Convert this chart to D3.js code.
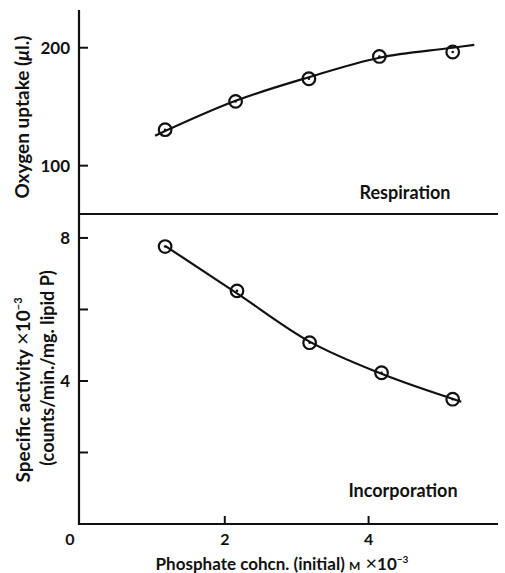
<!DOCTYPE html>
<html>
<head>
<meta charset="utf-8">
<script src="https://cdn.jsdelivr.net/npm/d3@7"></script>
<style>
  body { margin: 0; background: white; }
  svg text { font-family: Lato, 'Open Sans', sans-serif; fill: #111; }
</style>
</head>
<body>
<div id="chart-container"></div>
<script>
// measured points (phosphate concn, M x 10^-3)
const respX = [1.17, 2.15, 3.17, 4.15, 5.17]
const respY = [130.5, 154.5, 173.7, 192.6, 196.4]
// smooth curve drawn through the respiration data
const respCurveX = [1.03, 2.15, 3.17, 4.15, 5.17, 5.47]
const respCurveY = [125.4, 155, 175, 191.5, 200, 202.5]

const incX = [1.17, 2.17, 3.18, 4.18, 5.17]
const incY = [7.76, 6.52, 5.07, 4.23, 3.49]
const incCurveX = [1.17, 2.17, 3.18, 4.18, 5.29]
const incCurveY = [7.78, 6.45, 5.1, 4.2, 3.42]

const xTicks = [0, 2, 4]
const respTicks = [100, 200]
const incTicks = [2, 4, 6, 8]
const incTickLabels = { 4: '4', 8: '8' }

const width = 505
const height = 573

const svg = d3
  .select('#chart-container')
  .append('svg')
  .attr('width', width)
  .attr('height', height)

const x = d3.scaleLinear().domain([0, 5.8]).range([81, 498])
const yTop = d3.scaleLinear().domain([59, 232]).range([214, 10])
const yBot = d3.scaleLinear().domain([0, 8.67]).range([524, 214])

const axisLeft = x(0) - 2

// axes frame
svg
  .append('path')
  .attr('fill', 'none')
  .attr('stroke', '#111')
  .attr('stroke-width', 2.2)
  .attr('d', `M${axisLeft},${yTop(232)} V${yBot(0)} H${x(5.8)}`)

// divider between the two panels
svg
  .append('line')
  .attr('x1', axisLeft)
  .attr('x2', x(5.8))
  .attr('y1', yBot(8.67))
  .attr('y2', yBot(8.67))
  .attr('stroke', '#111')
  .attr('stroke-width', 2.2)

// y ticks, top panel
svg
  .append('g')
  .selectAll('line')
  .data(respTicks)
  .join('line')
  .attr('x1', axisLeft)
  .attr('x2', axisLeft + 9)
  .attr('y1', d => yTop(d))
  .attr('y2', d => yTop(d))
  .attr('stroke', '#111')
  .attr('stroke-width', 2)

svg
  .append('g')
  .selectAll('text')
  .data(respTicks)
  .join('text')
  .attr('x', axisLeft - 9)
  .attr('y', d => yTop(d))
  .attr('dy', '0.36em')
  .attr('text-anchor', 'end')
  .attr('font-size', 17)
  .attr('font-weight', 700)
  .text(d => d)

// y ticks, bottom panel
svg
  .append('g')
  .selectAll('line')
  .data(incTicks)
  .join('line')
  .attr('x1', axisLeft)
  .attr('x2', axisLeft + 9)
  .attr('y1', d => yBot(d))
  .attr('y2', d => yBot(d))
  .attr('stroke', '#111')
  .attr('stroke-width', 2)

svg
  .append('g')
  .selectAll('text')
  .data(incTicks.filter(d => incTickLabels[d]))
  .join('text')
  .attr('x', axisLeft - 9)
  .attr('y', d => yBot(d))
  .attr('dy', '0.36em')
  .attr('text-anchor', 'end')
  .attr('font-size', 17)
  .attr('font-weight', 700)
  .text(d => incTickLabels[d])

// x ticks
svg
  .append('g')
  .selectAll('line')
  .data(xTicks.filter(d => d > 0))
  .join('line')
  .attr('x1', d => x(d))
  .attr('x2', d => x(d))
  .attr('y1', yBot(0))
  .attr('y2', yBot(0) - 8)
  .attr('stroke', '#111')
  .attr('stroke-width', 2)

svg
  .append('g')
  .selectAll('text')
  .data(xTicks)
  .join('text')
  .attr('x', d => (d === 0 ? axisLeft - 9 : x(d)))
  .attr('y', yBot(0) + 21)
  .attr('text-anchor', 'middle')
  .attr('font-size', 16)
  .attr('font-weight', 700)
  .text(d => d)

// curves
const line = (sx, sy) =>
  d3
    .line()
    .x(d => sx(d[0]))
    .y(d => sy(d[1]))
    .curve(d3.curveMonotoneX)

svg
  .append('path')
  .attr('fill', 'none')
  .attr('stroke', '#111')
  .attr('stroke-width', 2.2)
  .attr('d', line(x, yTop)(respCurveX.map((v, i) => [v, respCurveY[i]])))

svg
  .append('path')
  .attr('fill', 'none')
  .attr('stroke', '#111')
  .attr('stroke-width', 2.2)
  .attr('d', line(x, yBot)(incCurveX.map((v, i) => [v, incCurveY[i]])))

// open circle markers with a centre dot
function markers(xs, ys, sy) {
  const g = svg
    .append('g')
    .selectAll('g')
    .data(xs.map((v, i) => [v, ys[i]]))
    .join('g')
    .attr('transform', d => `translate(${x(d[0])},${sy(d[1])})`)
  g.append('circle')
    .attr('r', 6.3)
    .attr('fill', 'none')
    .attr('stroke', '#111')
    .attr('stroke-width', 2.2)
  g.append('circle').attr('r', 1.3).attr('fill', '#111')
}
markers(respX, respY, yTop)
markers(incX, incY, yBot)

// panel labels
svg
  .append('text')
  .attr('x', 405)
  .attr('y', 199)
  .attr('text-anchor', 'middle')
  .attr('font-size', 18)
  .attr('font-weight', 700)
  .text('Respiration')

svg
  .append('text')
  .attr('x', 403)
  .attr('y', 497)
  .attr('text-anchor', 'middle')
  .attr('font-size', 18)
  .attr('font-weight', 700)
  .text('Incorporation')

// y axis titles
const t1 = svg
  .append('text')
  .attr('transform', 'translate(29,117) rotate(-90)')
  .attr('text-anchor', 'middle')
  .attr('font-size', 19)
  .attr('font-weight', 700)
t1.append('tspan').text('Oxygen uptake (')
t1.append('tspan').attr('font-style', 'italic').text('μ')
t1.append('tspan').text('l.)')

const t2 = svg
  .append('text')
  .attr('transform', 'translate(30,390) rotate(-90)')
  .attr('text-anchor', 'middle')
  .attr('font-size', 19)
  .attr('font-weight', 700)
t2.append('tspan').text('Specific activity ')
t2.append('tspan').attr('font-weight', 400).attr('font-size', 22).text('×')
t2.append('tspan').text('10')
t2.append('tspan').attr('font-size', 11).attr('dy', -8).text('−3')

svg
  .append('text')
  .attr('transform', 'translate(54,368) rotate(-90)')
  .attr('text-anchor', 'middle')
  .attr('font-size', 18)
  .attr('font-weight', 700)
  .text('(counts/min./mg. lipid P)')

// x axis title
const t3 = svg
  .append('text')
  .attr('x', 282)
  .attr('y', 570)
  .attr('text-anchor', 'middle')
  .attr('font-size', 17)
  .attr('font-weight', 700)
t3.append('tspan').text('Phosphate cohcn. (initial) ')
t3.append('tspan').attr('font-size', 12).text('M')
t3.append('tspan').attr('font-weight', 400).attr('font-size', 20).text(' ×')
t3.append('tspan').text('10')
t3.append('tspan').attr('font-size', 10).attr('dy', -7).text('−3')
</script>
</body>
</html>
